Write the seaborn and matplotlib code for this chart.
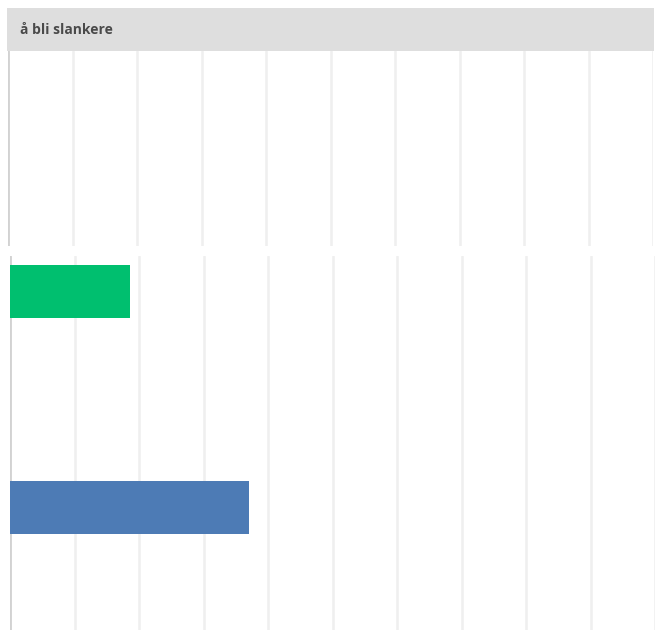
import matplotlib
matplotlib.use("Agg")
import matplotlib.pyplot as plt
import seaborn as sns
import pandas as pd

# Data
title = "å bli slankere"
groups = ["Gruppe A", "Gruppe B"]
shares = [18.6, 37.0]
colors = ["#00BF6F", "#4D7BB5"]
ticks = list(range(0, 101, 10))

sns.set_theme(style="white")
plt.rcParams["font.family"] = ["Open Sans", "DejaVu Sans"]

W, H = 657, 630
fig = plt.figure(figsize=(W / 100, H / 100), dpi=100)
fig.patch.set_facecolor("white")


def rect(x0, y0, x1, y1):
    return [x0 / W, 1 - y1 / H, (x1 - x0) / W, (y1 - y0) / H]


grid_kw = dict(color="#EFEFEF", linewidth=1.8)

# Facet header strip
hdr = fig.add_axes(rect(7, 8, 654, 51))
hdr.set_facecolor("#DEDEDE")
hdr.set_xticks([]); hdr.set_yticks([])
for s in hdr.spines.values():
    s.set_visible(False)
hdr.text(0.02, 0.5, title, transform=hdr.transAxes, ha="left", va="center",
         fontsize=10, fontweight="bold", color="#4A4A4A")

# Upper (empty) panel
top = fig.add_axes(rect(8, 51, 653, 246))
top.set_xlim(0, 100)
top.set_xticks(ticks)
top.set_yticks([])
top.grid(axis="x", **grid_kw)
top.tick_params(axis="x", length=0, labelbottom=False)
for s in top.spines.values():
    s.set_visible(False)
top.axvline(0, color="#D2D2D2", linewidth=2.0)

# Lower panel with bars
df = pd.DataFrame({"group": groups, "share": shares})
ax = fig.add_axes(rect(10, 256, 655, 630))
sns.barplot(data=df, y="group", x="share", hue="group", palette=colors,
            saturation=1, width=0.245, orient="h", legend=False, ax=ax,
            zorder=3, edgecolor="none")
ax.set_xlim(0, 100)
ax.set_ylim(1.567, -0.164)
ax.set_xticks(ticks)
ax.grid(axis="x", **grid_kw)
ax.set_axisbelow(True)
ax.tick_params(axis="both", length=0, labelbottom=False, labelleft=False)
ax.set_xlabel(""); ax.set_ylabel("")
for s in ax.spines.values():
    s.set_visible(False)
ax.axvline(0, color="#D2D2D2", linewidth=2.0, zorder=2)

fig.savefig("out.png", dpi=100)
